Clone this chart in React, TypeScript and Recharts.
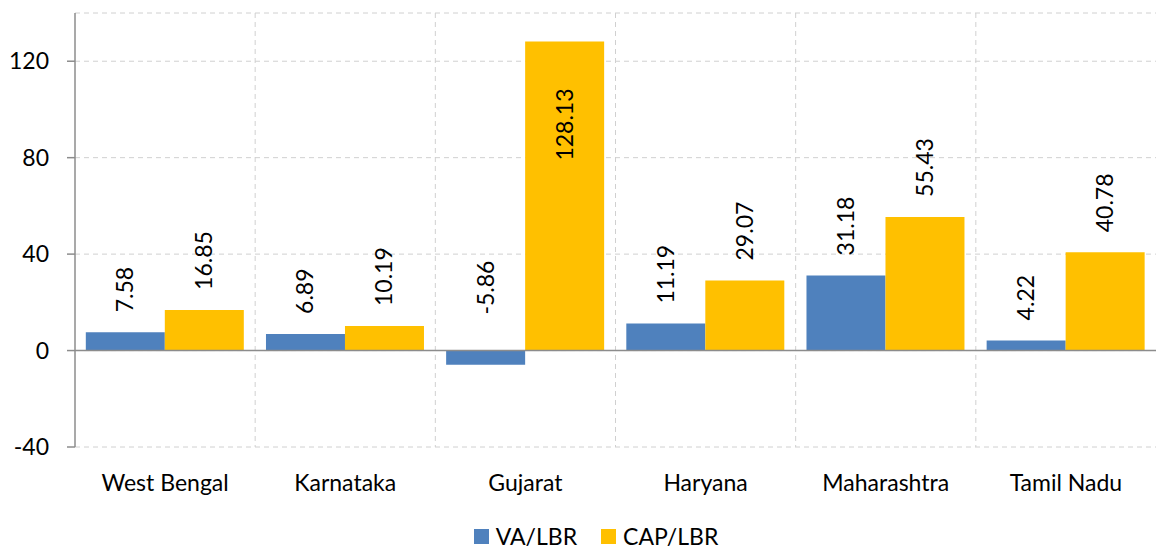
import React from "react";
import { BarChart, Bar, XAxis, YAxis, CartesianGrid, Legend, ReferenceLine, LabelList } from "recharts";

const states = ["West Bengal", "Karnataka", "Gujarat", "Haryana", "Maharashtra", "Tamil Nadu"];
const vaLbr = [7.58, 6.89, -5.86, 11.19, 31.18, 4.22];
const capLbr = [16.85, 10.19, 128.13, 29.07, 55.43, 40.78];
const yTicks = [-40, 0, 40, 80, 120];

const data = states.map((s, i) => ({ state: s, va: vaLbr[i], cap: capLbr[i] }));

const FONT = "Lato, 'Open Sans', sans-serif";
const FS = 23;
const PLOT_TOP = 13;

function RotLabel(props: any) {
  const { x, y, width, height, value } = props;
  const cx = x + width / 2;
  const top = Math.min(y, y + height);
  const textLen = String(value).length * 12.5;
  let bottom = value < 0 ? top - 36 : top - 20;
  if (bottom - textLen < PLOT_TOP) bottom = top + 44 + textLen;
  return (
    <text
      x={cx}
      y={bottom}
      transform={`rotate(-90 ${cx} ${bottom})`}
      dy={8}
      fontSize={FS}
      fontFamily={FONT}
      fill="#000"
      textAnchor="start"
    >
      {value}
    </text>
  );
}

function LegendContent(props: any) {
  const items = [...(props.payload || [])].sort((a: any, b: any) =>
    a.dataKey === "va" ? -1 : b.dataKey === "va" ? 1 : 0
  );
  return (
    <div style={{ display: "flex", justifyContent: "center", alignItems: "center", fontFamily: FONT, fontSize: FS, paddingLeft: 36 }}>
      {items.map((it: any, i: number) => (
        <div key={i} style={{ display: "flex", alignItems: "center", marginLeft: i === 0 ? 0 : 24 }}>
          <span style={{ width: 15, height: 15, background: it.color, display: "inline-block", marginRight: 7 }} />
          <span style={{ color: "#000" }}>{it.value}</span>
        </div>
      ))}
    </div>
  );
}

export default function App() {
  return (
    <div style={{ position: "absolute", left: 0, top: 0, background: "#fff" }}>
      <BarChart
        width={1156}
        height={550}
        data={data}
        margin={{ top: PLOT_TOP, right: 0, left: 0, bottom: 0 }}
        barCategoryGap="6%"
        barGap={0}
      >
        <CartesianGrid
          stroke="#d0d0d0"
          strokeDasharray="5 4"
          verticalCoordinatesGenerator={({ offset }: any) =>
            [1, 2, 3, 4, 5].map((k) => offset.left + (k * offset.width) / 6)
          }
        />
        <XAxis
          dataKey="state"
          axisLine={false}
          tickLine={false}
          tickMargin={22}
          height={60}
          tick={{ fontSize: FS, fontFamily: FONT, fill: "#000" }}
        />
        <YAxis
          domain={[-40, 140]}
          ticks={yTicks}
          width={75}
          tickSize={8}
          tickMargin={18}
          axisLine={{ stroke: "#8c8c8c", strokeWidth: 1.5 }}
          tickLine={{ stroke: "#8c8c8c", strokeWidth: 1.5 }}
          tick={{ fontSize: FS, fontFamily: FONT, fill: "#000" }}
        />
        <ReferenceLine y={0} stroke="#8c8c8c" strokeWidth={1.5} />
        <Legend
          verticalAlign="bottom"
          height={43}
          content={LegendContent}
          wrapperStyle={{ top: 522, bottom: "auto" }}
        />
        <Bar dataKey="va" name="VA/LBR" fill="#4f81bd" isAnimationActive={false}>
          <LabelList dataKey="va" content={RotLabel} />
        </Bar>
        <Bar dataKey="cap" name="CAP/LBR" fill="#ffc000" isAnimationActive={false}>
          <LabelList dataKey="cap" content={RotLabel} />
        </Bar>
      </BarChart>
    </div>
  );
}
